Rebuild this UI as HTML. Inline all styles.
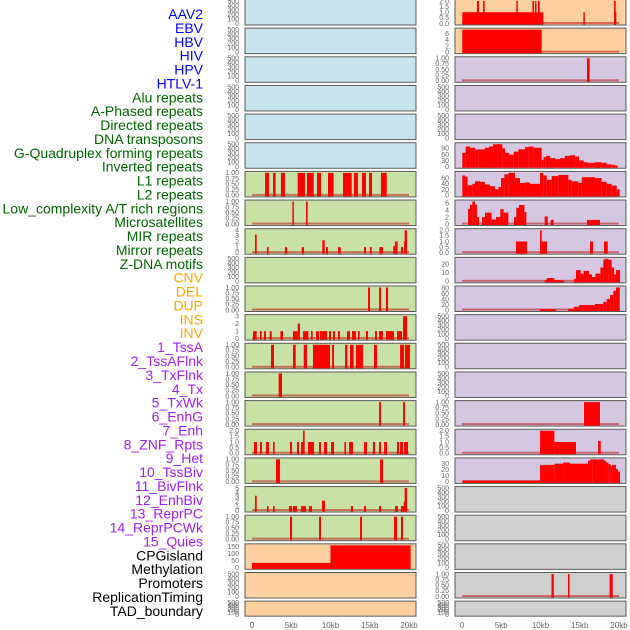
<!DOCTYPE html>
<html><head><meta charset="utf-8">
<style>
html,body{margin:0;padding:0;background:#fff;}
svg{display:block;font-family:"Liberation Sans",sans-serif;}
</style></head>
<body>
<svg id="chart" width="630" height="630" viewBox="0 0 630 630"></svg>
<script>
// ---- data ----
const trackLabels = ["AAV2","EBV","HBV","HIV","HPV","HTLV-1","Alu repeats","A-Phased repeats","Directed repeats","DNA transposons","G-Quadruplex forming repeats","Inverted repeats","L1 repeats","L2 repeats","Low_complexity A/T rich regions","Microsatellites","MIR repeats","Mirror repeats","Z-DNA motifs","CNV","DEL","DUP","INS","INV","1_TssA","2_TssAFlnk","3_TxFlnk","4_Tx","5_TxWk","6_EnhG","7_Enh","8_ZNF_Rpts","9_Het","10_TssBiv","11_BivFlnk","12_EnhBiv","13_ReprPC","14_ReprPCWk","15_Quies","CPGisland","Methylation","Promoters","ReplicationTiming","TAD_boundary"];
const labelColors = ["#0000ff","#0000ff","#0000ff","#0000ff","#0000ff","#0000ff","#006400","#006400","#006400","#006400","#006400","#006400","#006400","#006400","#006400","#006400","#006400","#006400","#006400","#ffa500","#ffa500","#ffa500","#ffa500","#ffa500","#a020f0","#a020f0","#a020f0","#a020f0","#a020f0","#a020f0","#a020f0","#a020f0","#a020f0","#a020f0","#a020f0","#a020f0","#a020f0","#a020f0","#a020f0","#000","#000","#000","#000","#000"];
const xTicks = [0,5,10,15,20];
const xTickLabels = ["0","5kb","10kb","15kb","20kb"];

const dataL6 = [[1.66,2.17,1],[2.68,3.01,1],[3.69,4.2,1],[5.82,6.75,1],[7.0,7.86,1],[8.28,8.79,1],[9.68,10.4,1],[11.59,12.7,1],[13.0,13.5,1],[14.01,14.52,1],[14.91,15.29,1],[16.43,17.16,1]];
const dataL7 = [[5.14,5.31,1],[6.88,7.09,1]];
const dataL8 = [[0.38,0.6,3.2],[1.91,2.12,1],[4.2,4.46,1],[6.33,6.63,1],[8.96,9.26,2.2],[9.43,9.68,1],[10.96,11.3,1],[14.27,14.52,1],[15.03,15.25,1],[16.22,16.69,1],[18.0,18.22,1.2],[18.22,18.56,2],[18.98,19.24,1],[19.37,19.49,2],[19.45,19.75,4]];
const dataL10 = [[14.78,15.03,1],[16.18,16.43,1],[17.07,17.33,1]];
const dataL11 = [[0.13,0.6,1],[1.02,1.23,1],[1.53,1.78,1],[2.25,2.51,1],[3.61,3.95,1],[5.22,5.82,1],[5.82,6.12,2],[6.5,7.18,1],[7.52,7.73,1],[8.16,8.54,1],[8.66,9.56,1],[9.81,10.07,1],[10.32,10.57,1],[10.96,11.21,1],[12.1,12.48,1],[12.74,13.25,1],[13.5,13.72,1],[14.52,14.78,1],[15.67,15.92,1],[16.18,16.69,1],[17.07,18.09,1],[18.47,19.11,1],[19.24,19.75,3]];
const dataL12 = [[2.42,2.8,1],[5.22,5.57,1],[6.59,7.0,1],[7.77,9.94,1],[10.2,10.45,1],[11.85,12.15,1],[12.48,12.95,1],[13.25,14.14,1],[15.54,15.92,1],[18.86,19.37,1],[19.49,20.13,1]];
const dataL13 = [[3.4,3.82,1]];
const dataL14 = [[16.18,16.43,1],[19.24,19.49,1]];
const dataL15 = [[0.25,0.64,1],[1.02,1.27,1],[1.78,2.17,1],[2.68,2.89,1],[4.84,5.1,1],[5.73,5.99,1],[6.25,6.5,1],[6.5,6.71,2],[7.13,7.9,1],[8.54,8.79,1],[9.17,9.56,1],[10.07,10.45,1],[11.77,11.98,1],[12.36,12.87,1],[14.27,14.65,1],[15.41,15.67,1],[16.18,16.43,1],[16.82,17.2,1],[18.47,18.73,1],[18.86,19.24,1],[19.37,19.88,1]];
const dataL16 = [[3.06,3.57,1],[16.31,16.69,1]];
const dataL17 = [[0.38,0.6,3.3],[1.91,2.12,1],[2.68,2.89,1],[4.71,5.1,1],[5.22,5.73,1],[6.25,6.88,1],[7.26,7.64,1],[8.92,9.3,2.2],[12.61,12.87,1],[14.27,14.52,1],[16.18,16.43,1],[18.22,18.6,1],[18.98,19.37,1],[19.33,19.49,2],[19.45,19.75,5]];
const dataL18 = [[4.84,5.1,1],[8.54,8.79,1],[13.76,14.01,1],[18.09,18.47,1],[18.98,19.24,1]];
const dataL19 = [[0,10,35],[10,20.2,160]];

const dataR0 = [[0.04,10.36,1],[1.91,2.17,2],[2.68,2.89,2],[6.92,7.09,2],[8.96,9.17,2],[9.3,9.47,2],[9.68,9.9,2],[15.46,15.63,1],[19.37,19.66,1],[19.37,19.58,2]];
const dataR1 = [[0.04,10.15,7.3]];
const dataR2 = [[15.92,16.26,1]];
const dataR5 = [[0.04,0.47,68],[0.47,1.02,99],[1.02,1.66,93],[1.66,2.08,84],[2.08,2.93,85],[2.93,3.44,93],[3.44,3.95,99],[3.95,5.14,112],[5.14,5.48,90],[5.48,5.99,68],[5.99,6.59,59],[6.59,7.18,74],[7.18,8.03,85],[8.03,8.45,96],[8.45,9.09,99],[9.09,10.15,93],[10.15,10.4,34],[10.4,10.66,47],[10.66,11.21,53],[11.21,11.85,42],[11.85,12.48,37],[12.48,13.12,42],[13.12,13.76,53],[13.76,14.4,56],[14.4,14.91,50],[14.91,15.5,31],[15.5,16.09,22],[16.09,16.94,19],[16.94,17.8,22],[17.8,18.43,19],[18.43,19.07,12],[19.07,19.49,9],[19.49,19.83,6]];
const dataR6 = [[0.04,0.38,69],[0.38,0.72,65],[0.72,1.32,35],[1.32,1.66,40],[1.66,2.29,49],[2.29,2.93,47],[2.93,3.57,38],[3.57,4.2,32],[4.2,4.63,21],[4.63,4.97,29],[4.97,5.4,60],[5.4,5.9,73],[5.9,6.75,78],[6.75,7.39,60],[7.39,8.03,43],[8.03,8.66,45],[8.66,9.94,40],[9.94,10.36,79],[10.36,10.79,69],[10.79,11.42,54],[11.42,12.27,67],[12.27,13.55,71],[13.55,13.97,54],[13.97,14.82,49],[14.82,15.25,43],[15.25,15.67,63],[15.67,16.94,63],[16.94,17.8,60],[17.8,18.43,47],[18.43,19.07,40],[19.07,19.71,34],[19.71,20.09,21]];
const dataR7 = [[0.77,1.02,4.3],[1.02,1.32,5.6],[1.32,1.66,6.5],[1.66,1.91,5.6],[1.91,2.17,2],[2.55,2.93,2],[2.93,3.78,3.3],[3.78,4.33,1.3],[4.33,4.88,2],[4.88,5.31,4.3],[5.31,5.9,3.3],[6.63,6.92,2],[6.92,7.26,4.7],[7.26,7.95,5.5],[7.95,8.2,3.5],[10.53,10.92,2.2],[11.3,11.68,1.2],[15.92,17.58,1.2]];
const dataR8 = [[6.88,8.28,1],[9.94,10.15,2],[10.15,10.83,1],[16.31,16.69,1],[18.09,18.56,1]];
const dataR9 = [[10.53,10.79,1.5],[10.79,11.77,3.8],[11.77,12.36,1.5],[12.36,13.0,1.1],[14.27,14.52,3],[14.52,15.12,13],[15.12,15.5,9],[15.5,16.18,12],[16.18,16.56,8],[16.56,16.99,5],[16.99,17.63,9],[17.63,18.0,16],[18.0,18.22,25],[18.22,18.65,27],[18.65,19.07,25],[19.07,19.37,16],[19.37,19.62,8],[19.62,20.13,13]];
const dataR10 = [[9.94,11.98,3],[13.5,14.27,4],[14.27,14.91,12],[14.91,16.94,18],[16.94,18.0,22],[18.0,18.43,30],[18.43,18.86,40],[18.86,19.28,55],[19.28,19.62,70],[19.62,20.09,82]];
const dataR14 = [[15.54,17.58,1]];
const dataR15 = [[9.94,11.77,2],[11.77,14.52,1],[17.33,17.67,1.1]];
const dataR16 = [[0.04,9.94,2.5],[9.94,10.2,28],[10.2,10.32,27],[10.32,11.77,28],[11.77,12.87,30],[12.87,13.76,32],[13.76,16.05,30],[16.05,16.31,35],[16.31,16.65,37],[16.65,18.09,38],[18.09,18.35,35],[18.35,18.65,32],[18.65,18.94,29],[18.94,19.11,26],[19.11,19.62,28],[19.62,19.88,21],[19.88,20.13,17]];
const dataR20 = [[11.4,11.7,1],[13.5,13.7,1],[18.8,19.2,1]];

const ticks500 = ["0","100","200","300","400","500"];
const ticks1 = ["0.00","0.25","0.50","0.75","1.00"];
const ticks2 = ["0.0","0.5","1.0","1.5","2.0"];

// panel configs: [data, ymax, tick values, tick labels, fill, baseline]
const C = {blue:"#c7e4ec",green:"#c8e1a5",orange:"#fed0a0",purple:"#d5c6e2",gray:"#d0d0d0"};
const E = null;
const leftPanels = [
 [E,500,[0,100,200,300,400,500],ticks500,C.blue],[E,500,[0,100,200,300,400,500],ticks500,C.blue],
 [E,500,[0,100,200,300,400,500],ticks500,C.blue],[E,500,[0,100,200,300,400,500],ticks500,C.blue],
 [E,500,[0,100,200,300,400,500],ticks500,C.blue],[E,500,[0,100,200,300,400,500],ticks500,C.blue],
 [dataL6,1,[0,.25,.5,.75,1],ticks1,C.green,1],[dataL7,1,[0,.25,.5,.75,1],ticks1,C.green,1],
 [dataL8,4,[0,1,2,3,4],["0","1","2","3","4"],C.green,1],[E,500,[0,100,200,300,400,500],ticks500,C.green],
 [dataL10,1,[0,.25,.5,.75,1],ticks1,C.green,1],[dataL11,3,[0,1,2,3],["0","1","2","3"],C.green,1],
 [dataL12,1,[0,.25,.5,.75,1],ticks1,C.green,1],[dataL13,1,[0,.25,.5,.75,1],ticks1,C.green,1],
 [dataL14,1,[0,.25,.5,.75,1],ticks1,C.green,1],[dataL15,2,[0,.5,1,1.5,2],ticks2,C.green,1],
 [dataL16,1,[0,.25,.5,.75,1],ticks1,C.green,1],[dataL17,5,[0,1,2,3,4,5],["0","1","2","3","4","5"],C.green,1],
 [dataL18,1,[0,.25,.5,.75,1],ticks1,C.green,1],[dataL19,160,[0,50,100,150],["0","50","100","150"],C.orange,0],
 [E,500,[0,100,200,300,400,500],ticks500,C.orange],[E,500,[0,100,200,300,400,500],ticks500,C.orange]
];
const rightPanels = [
 [dataR0,2,[0,.5,1,1.5,2],ticks2,C.orange,1],[dataR1,7.3,[0,2,4,6],["0","2","4","6"],C.orange,1],
 [dataR2,1,[0,.25,.5,.75,1],ticks1,C.purple,1],[E,500,[0,100,200,300,400,500],ticks500,C.purple],
 [E,500,[0,100,200,300,400,500],ticks500,C.purple],[dataR5,110,[0,30,60,90],["0","30","60","90"],C.purple,0],
 [dataR6,78,[0,20,40,60],["0","20","40","60"],C.purple,0],[dataR7,6.5,[0,2,4,6],["0","2","4","6"],C.purple,1],
 [dataR8,2,[0,.5,1,1.5,2],ticks2,C.purple,1],[dataR9,26,[0,10,20],["0","10","20"],C.purple,1],
 [dataR10,82,[0,20,40,60,80],["0","20","40","60","80"],C.purple,1],[E,500,[0,100,200,300,400,500],ticks500,C.purple],
 [E,500,[0,100,200,300,400,500],ticks500,C.purple],[E,500,[0,100,200,300,400,500],ticks500,C.purple],
 [dataR14,1,[0,.25,.5,.75,1],ticks1,C.purple,1],[dataR15,2,[0,.5,1,1.5,2],ticks2,C.purple,1],
 [dataR16,37,[0,10,20,30],["0","10","20","30"],C.purple,0],[E,500,[0,100,200,300,400,500],ticks500,C.gray],
 [E,500,[0,100,200,300,400,500],ticks500,C.gray],[E,500,[0,100,200,300,400,500],ticks500,C.gray],
 [dataR20,1,[0,.25,.5,.75,1],ticks1,C.gray,1],[E,500,[0,100,200,300,400,500],ticks500,C.gray]
];

// ---- drawing ----
const NS = "http://www.w3.org/2000/svg";
const svg = document.getElementById("chart");
function mk(tag, attrs, parent){
  const e = document.createElementNS(NS, tag);
  for (const k in attrs) e.setAttribute(k, attrs[k]);
  (parent||svg).appendChild(e);
  return e;
}
// labels
trackLabels.forEach((t,i)=>{
  const el = mk("text",{x:203,y:19+i*13.88,"text-anchor":"end","font-size":"14",fill:labelColors[i]});
  el.textContent = t;
  
  
});
const PW = 171;
function rowTop(i){ return i*28.65 - 0.5; }
function drawPanel(cfg, i, px, side){
  const [data, ymax, tv, tl, fill, base] = cfg;
  const top = rowTop(i), h = (i===21 ? 15 : 25.5);
  const g = mk("g",{});
  
  
  const r = mk("rect",{x:px,y:top,width:PW,height:h,fill:fill,stroke:"#5a5a5a","stroke-width":1},g);
  
  
  const y0 = top+h-1.5, y1 = top+1.5;
  const ys = v => y0 - (v/ymax)*(y0-y1);
  const xs = kb => px + 7 + kb*7.85;
  tv.forEach((v,k)=>{
    const t = mk("text",{x:px-6,y:ys(v)+2.3,"text-anchor":"end","font-size":"7",fill:"#666"},g);
    t.textContent = tl[k];
    
    
  });
  if (base){
    const b = mk("rect",{x:xs(0),y:y0-1.5,width:xs(20)-xs(0),height:2,fill:"rgba(190,0,0,0.5)"},g);
    
    
  }
  if (data){
    data.forEach(d=>{
      const v = Math.min(d[2], ymax);
      const bar = mk("rect",{x:xs(d[0]),y:ys(v),width:Math.max(xs(d[1])-xs(d[0]),1.5),height:y0-ys(v)+1,fill:"#ff0000"},g);
      
      
    });
  }
}
leftPanels.forEach((c,i)=>drawPanel(c,i,245,'left'));
rightPanels.forEach((c,i)=>drawPanel(c,i,455,'right'));
// x-axis ticks
[245,455].forEach((px,j)=>{
  xTicks.forEach((v,k)=>{
    const t = mk("text",{x:px+7+v*7.85,y:628,"text-anchor":"middle","font-size":"8",fill:"#666"});
    t.textContent = xTickLabels[k];
    
    
  });
});
</script>
</body></html>
